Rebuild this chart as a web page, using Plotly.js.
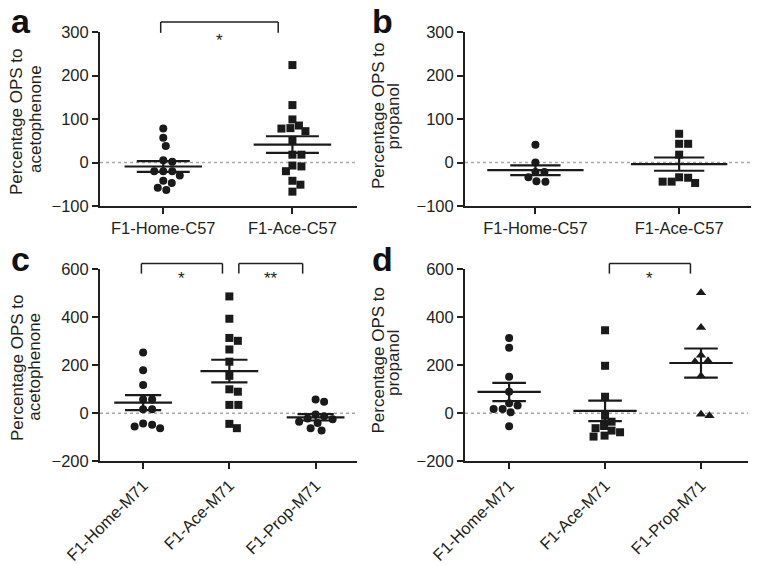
<!DOCTYPE html>
<html><head><meta charset="utf-8">
<script src="https://cdn.plot.ly/plotly-3.0.1.min.js"></script>
<style>html,body{margin:0;padding:0;background:#fff}</style>
</head><body><div id="chart" style="width:763px;height:565px"></div>
<script>
// ---- data ----
const catsTop = ['F1-Home-C57', 'F1-Ace-C57'];
const catsBottom = ['F1-Home-M71', 'F1-Ace-M71', 'F1-Prop-M71'];
const yTicksTop = [-100, 0, 100, 200, 300];
const yTicksBottom = [-200, 0, 200, 400, 600];
// a: % OPS to acetophenone (C57)
const a_home = [78, 57, 38, 2, 5, -20, -20, -30, -20, -47, -42, -63, -58];
const a_ace = [224, 132, 99, 78, 72, 79, 85, 51, 18, 18, -9, -20, -7, -42, -51, -67];
// b: % OPS to propanol (C57)
const b_home = [41, 0, -34, -44, -43, -22, -22];
const b_ace = [66, 43, 43, 18, -34, -44, -47, -44, -35];
// c: % OPS to acetophenone (M71)
const c_home = [253, 179, 118, 58, 58, 17, 17, -48, -62, -55, -43];
const c_ace = [487, 394, 302, 314, 266, 215, 156, 90, 100, 35, 35, -62, -44];
const c_prop = [48, 58, -5, -12, -25, -40, -22, -35, -72, -62];
// d: % OPS to propanol (M71)
const d_home = [314, 273, 152, 90, 32, 18, 4, 18, 42, -54];
const d_ace = [346, 198, 69, -10, -35, -62, -79, -97, -93, -72, -53];
const d_prop = [502, 357, 242, 215, 219, 155, -10, -4];
const sigLabelsA = ['*'];
const sigLabelsC = ['*', '**'];
const sigLabelsD = ['*'];

// ---- layout configuration ----
const W = 763, H = 565;
const FONT = 'Liberation Sans, Arial, Helvetica, sans-serif';
const INK = '#231f20';
const panels = [
  {ax: '', px: [100, 357], py: [32, 206], xr: [-0.49, 1.5], yr: [-100, 300], yt: yTicksTop, cats: catsTop,
   data: [a_home, a_ace], sym: ['circle', 'square'], angle: 0, mw: 0.30, sw: 0.205,
   title: ['Percentage OPS to', 'acetophenone'], tx: [17.5, 36.5], ty: [122, 119],
   letter: 'a', lx: 20.5, lb: 33,
   sig: [{c0: -0.02, c1: 0.89, t: sigLabelsA[0]}], sigTop: 323, sigLeg: 298, starY: 41},
  {ax: '2', px: [465, 751], py: [32, 206], xr: [-0.49, 1.5], yr: [-100, 300], yt: yTicksTop, cats: catsTop,
   data: [b_home, b_ace], sym: ['circle', 'square'], angle: 0, mw: 0.335, sw: 0.175,
   title: ['Percentage OPS to', 'propanol'], tx: [380, 394.5], ty: [116.5, 116.5],
   letter: 'b', lx: 382.5, lb: 33, sig: []},
  {ax: '3', px: [100, 357], py: [269.3, 461.3], xr: [-0.5, 2.48], yr: [-200, 600], yt: yTicksBottom, cats: catsBottom,
   data: [c_home, c_ace, c_prop], sym: ['circle', 'square', 'circle'], angle: -45, mw: 0.335, sw: 0.21,
   title: ['Percentage OPS to', 'acetophenone'], tx: [18.5, 36.5], ty: [368, 366.7],
   letter: 'c', lx: 20.5, lb: 271,
   sig: [{c0: -0.02, c1: 0.92, t: sigLabelsC[0]}, {c0: 1.11, c1: 1.85, t: sigLabelsC[1]}], sigTop: 624, sigLeg: 582, starY: 279},
  {ax: '4', px: [465, 748], py: [269.3, 461.3], xr: [-0.46, 2.49], yr: [-200, 600], yt: yTicksBottom, cats: catsBottom,
   data: [d_home, d_ace, d_prop], sym: ['circle', 'square', 'triangle-up'], angle: -45, mw: 0.33, sw: 0.175,
   title: ['Percentage OPS to', 'propanol'], tx: [380, 395], ty: [361, 362.5],
   letter: 'd', lx: 382.5, lb: 271,
   sig: [{c0: 1.045, c1: 1.89, t: sigLabelsD[0]}], sigTop: 624, sigLeg: 582, starY: 279}
];
const symSize = {'circle': 8, 'square': 8, 'triangle-up': 9};

// beeswarm offsets (pixels) so points do not overlap
function swarm(vals, pxY, D) {
  const order = vals.map((v, i) => i).sort((i, j) => vals[j] - vals[i]);
  const placed = [];
  const off = new Array(vals.length).fill(0);
  for (const i of order) {
    const y = vals[i] * pxY;
    for (let k = 0; k < 1000; k++) {
      const cand = k === 0 ? 0 : ((k % 2 === 1) ? 1 : -1) * Math.ceil(k / 2) * 0.5;
      let ok = true;
      for (const p of placed) {
        const dx = cand - p[0], dy = y - p[1];
        if (dx * dx + dy * dy < D * D) { ok = false; break; }
      }
      if (ok) { off[i] = cand; placed.push([cand, y]); break; }
    }
  }
  return off;
}
function meanSem(v) {
  const n = v.length, m = v.reduce((s, x) => s + x, 0) / n;
  const sd = Math.sqrt(v.reduce((s, x) => s + (x - m) * (x - m), 0) / (n - 1));
  return [m, sd / Math.sqrt(n)];
}

const traces = [], shapes = [], annotations = [];
const layout = {
  width: W, height: H, margin: {l: 0, r: 0, t: 0, b: 0},
  paper_bgcolor: '#fff', plot_bgcolor: 'rgba(0,0,0,0)', showlegend: false,
  font: {family: FONT, color: INK, size: 16}
};

panels.forEach(P => {
  const xa = 'x' + P.ax, ya = 'y' + P.ax;
  const pxX = (P.px[1] - P.px[0]) / (P.xr[1] - P.xr[0]);
  const pxY = (P.py[1] - P.py[0]) / (P.yr[1] - P.yr[0]);
  layout['xaxis' + P.ax] = {
    domain: [P.px[0] / W, P.px[1] / W], range: P.xr, anchor: ya,
    tickmode: 'array', tickvals: P.cats.map((c, i) => i), ticktext: P.cats, tickangle: P.angle,
    showline: true, linecolor: INK, linewidth: 2, ticks: 'outside', ticklen: 6, tickwidth: 2, tickcolor: INK,
    showgrid: false, zeroline: false, fixedrange: true, tickfont: {size: 16.5, color: INK, family: FONT}
  };
  layout['yaxis' + P.ax] = {
    domain: [1 - P.py[1] / H, 1 - P.py[0] / H], range: P.yr, anchor: xa,
    tickmode: 'array', tickvals: P.yt,
    showline: true, linecolor: INK, linewidth: 2, ticks: 'outside', ticklen: 6, tickwidth: 2, tickcolor: INK,
    showgrid: false, zeroline: false, fixedrange: true, tickfont: {size: 16.5, color: INK, family: FONT}
  };
  // dotted zero reference line
  shapes.push({type: 'line', xref: xa + ' domain', yref: ya, x0: 0, x1: 1, y0: 0, y1: 0,
    line: {color: '#a8a8a8', width: 1.5, dash: 'dot'}, layer: 'below'});
  // groups
  P.data.forEach((vals, gi) => {
    const off = swarm(vals, pxY, 8.6);
    traces.push({type: 'scatter', mode: 'markers', xaxis: xa, yaxis: ya,
      x: vals.map((v, i) => gi + off[i] / pxX), y: vals,
      marker: {symbol: P.sym[gi], size: symSize[P.sym[gi]], color: '#1a1a1a', line: {width: 0}},
      hoverinfo: 'skip', cliponaxis: false});
    const [m, s] = meanSem(vals);
    traces.push({type: 'scatter', mode: 'lines', xaxis: xa, yaxis: ya,
      x: [gi - P.mw, gi + P.mw, null, gi - P.sw, gi + P.sw, null, gi - P.sw, gi + P.sw, null, gi, gi],
      y: [m, m, null, m + s, m + s, null, m - s, m - s, null, m + s, m - s],
      line: {color: '#1a1a1a', width: 2.2}, hoverinfo: 'skip'});
  });
  // significance brackets
  (P.sig || []).forEach(S => {
    const fx = c => (c - P.xr[0]) / (P.xr[1] - P.xr[0]);
    const fy = v => (v - P.yr[0]) / (P.yr[1] - P.yr[0]);
    const ln = {color: INK, width: 1.5};
    shapes.push({type: 'line', xref: xa + ' domain', yref: ya + ' domain', x0: fx(S.c0), x1: fx(S.c1), y0: fy(P.sigTop), y1: fy(P.sigTop), line: ln});
    shapes.push({type: 'line', xref: xa + ' domain', yref: ya + ' domain', x0: fx(S.c0), x1: fx(S.c0), y0: fy(P.sigTop), y1: fy(P.sigLeg), line: ln});
    shapes.push({type: 'line', xref: xa + ' domain', yref: ya + ' domain', x0: fx(S.c1), x1: fx(S.c1), y0: fy(P.sigTop), y1: fy(P.sigLeg), line: ln});
    annotations.push({xref: xa, yref: 'paper', x: (S.c0 + S.c1) / 2, y: 1 - P.starY / H,
      text: S.t, showarrow: false, xanchor: 'center', yanchor: 'middle',
      font: {size: 17, color: INK, family: FONT}});
  });
  // y-axis titles (two lines)
  P.title.forEach((t, k) => {
    annotations.push({xref: 'paper', yref: 'paper', x: (P.tx[k] - 1.5) / W, y: 1 - P.ty[k] / H,
      text: t, textangle: -90, showarrow: false, xanchor: 'center', yanchor: 'middle',
      font: {size: 17, color: INK, family: FONT}});
  });
  // panel letter
  annotations.push({xref: 'paper', yref: 'paper', x: P.lx / W, y: 1 - (P.lb - 0.3465 * 34) / H,
    text: '<b>' + P.letter + '</b>', showarrow: false, xanchor: 'center', yanchor: 'middle',
    font: {size: 34, color: '#111', family: FONT}});
});
layout.shapes = shapes;
layout.annotations = annotations;
Plotly.newPlot('chart', traces, layout, {displayModeBar: false, staticPlot: true});
</script></body></html>
